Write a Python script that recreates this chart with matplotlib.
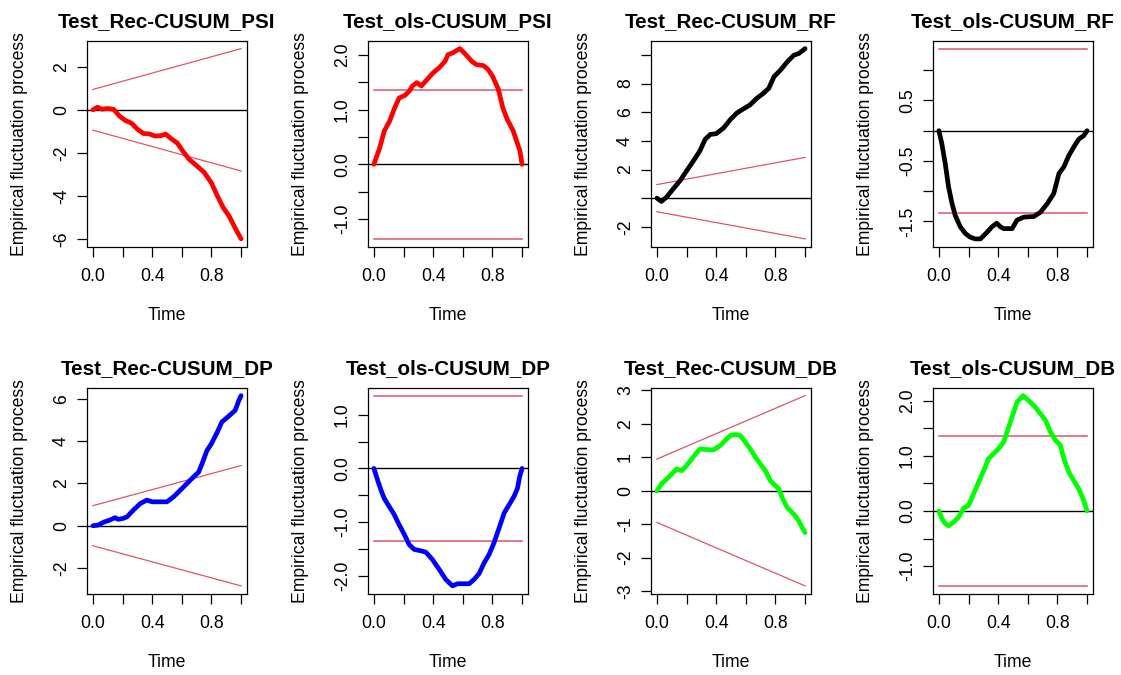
import matplotlib.pyplot as plt
import numpy as np

plt.rcParams['font.family'] = ['Liberation Sans', 'DejaVu Sans']

# fluctuation processes (time, value)
t_rec_psi = [0, 0.03, 0.06, 0.1, 0.14, 0.18, 0.22, 0.26, 0.3, 0.34, 0.38, 0.42, 0.46, 0.49,
             0.53, 0.57, 0.61, 0.65, 0.7, 0.75, 0.8, 0.84, 0.88, 0.92, 0.96, 1.0]
v_rec_psi = [0, 0.12, 0.03, 0.06, 0.02, -0.3, -0.5, -0.62, -0.9, -1.1, -1.12, -1.22, -1.2, -1.13,
             -1.35, -1.55, -1.95, -2.3, -2.6, -2.9, -3.4, -4.0, -4.55, -4.95, -5.5, -6.0]

t_ols_psi = [0, 0.04, 0.07, 0.106, 0.14, 0.17, 0.21, 0.24, 0.26, 0.29, 0.32, 0.35, 0.4, 0.44,
             0.48, 0.5, 0.53, 0.58, 0.61, 0.66, 0.69, 0.74, 0.77, 0.8, 0.84, 0.87, 0.9, 0.94,
             0.97, 0.985, 1.0]
v_ols_psi = [0, 0.31, 0.61, 0.79, 1.03, 1.21, 1.26, 1.34, 1.43, 1.49, 1.43, 1.52, 1.67, 1.76,
             1.88, 2.0, 2.03, 2.11, 2.03, 1.88, 1.82, 1.8, 1.73, 1.61, 1.37, 1.03, 0.82, 0.61,
             0.37, 0.25, 0]

t_rec_rf = [0, 0.03, 0.065, 0.11, 0.156, 0.2, 0.246, 0.29, 0.325, 0.36, 0.4, 0.45, 0.495, 0.54,
            0.585, 0.63, 0.675, 0.72, 0.755, 0.79, 0.834, 0.88, 0.924, 0.958, 1.0]
v_rec_rf = [0, -0.23, 0.07, 0.65, 1.22, 1.9, 2.6, 3.3, 4.1, 4.45, 4.5, 4.9, 5.48, 5.95,
            6.24, 6.52, 6.98, 7.33, 7.67, 8.48, 8.94, 9.52, 9.98, 10.1, 10.44]

t_ols_rf = [0, 0.02, 0.043, 0.065, 0.088, 0.11, 0.144, 0.178, 0.21, 0.245, 0.28, 0.325, 0.358,
            0.39, 0.415, 0.437, 0.494, 0.527, 0.572, 0.64, 0.685, 0.73, 0.775, 0.81, 0.843,
            0.877, 0.91, 0.944, 0.978, 1.0]
v_ols_rf = [0, -0.22, -0.55, -0.93, -1.2, -1.4, -1.59, -1.7, -1.76, -1.79, -1.79, -1.68, -1.59,
            -1.53, -1.59, -1.62, -1.62, -1.48, -1.43, -1.42, -1.35, -1.21, -1.04, -0.71, -0.6,
            -0.41, -0.27, -0.14, -0.08, 0]

t_rec_dp = [0, 0.036, 0.07, 0.115, 0.15, 0.17, 0.206, 0.23, 0.273, 0.32, 0.364, 0.4, 0.43, 0.5,
            0.545, 0.59, 0.635, 0.68, 0.714, 0.737, 0.77, 0.8, 0.84, 0.87, 0.92, 0.96, 0.985, 1.0]
v_rec_dp = [0, 0.03, 0.16, 0.27, 0.38, 0.3, 0.35, 0.42, 0.74, 1.05, 1.21, 1.13, 1.13, 1.13,
            1.37, 1.68, 2.0, 2.31, 2.54, 2.94, 3.56, 3.88, 4.43, 4.9, 5.2, 5.45, 5.92, 6.15]

t_ols_dp = [0, 0.025, 0.047, 0.07, 0.103, 0.137, 0.17, 0.205, 0.238, 0.272, 0.306, 0.35, 0.395,
            0.44, 0.485, 0.53, 0.564, 0.609, 0.643, 0.676, 0.71, 0.744, 0.778, 0.81, 0.845,
            0.879, 0.912, 0.946, 0.969, 0.984, 1.0]
v_ols_dp = [0, -0.22, -0.4, -0.56, -0.71, -0.86, -1.05, -1.23, -1.42, -1.51, -1.53, -1.56, -1.7,
            -1.88, -2.07, -2.19, -2.15, -2.15, -2.15, -2.07, -1.96, -1.76, -1.6, -1.39, -1.11,
            -0.83, -0.68, -0.52, -0.37, -0.15, 0]

t_rec_db = [0, 0.03, 0.066, 0.1, 0.133, 0.167, 0.2, 0.235, 0.27, 0.29, 0.337, 0.38, 0.427, 0.46,
            0.495, 0.53, 0.563, 0.597, 0.63, 0.665, 0.698, 0.732, 0.766, 0.8, 0.823, 0.845,
            0.879, 0.924, 0.958, 0.98, 1.0]
v_rec_db = [0, 0.2, 0.35, 0.5, 0.65, 0.6, 0.75, 0.95, 1.15, 1.25, 1.23, 1.22, 1.35, 1.5,
            1.65, 1.68, 1.65, 1.45, 1.25, 1.0, 0.8, 0.6, 0.3, 0.15, 0.05, -0.2,
            -0.5, -0.7, -0.9, -1.1, -1.25]

t_ols_db = [0, 0.02, 0.043, 0.065, 0.1, 0.133, 0.167, 0.2, 0.234, 0.268, 0.302, 0.336, 0.37,
            0.403, 0.437, 0.46, 0.493, 0.527, 0.568, 0.606, 0.651, 0.685, 0.72, 0.753, 0.787,
            0.82, 0.843, 0.877, 0.91, 0.944, 0.973, 1.0]
v_ols_db = [0, -0.14, -0.23, -0.27, -0.2, -0.11, 0.05, 0.1, 0.31, 0.52, 0.73, 0.95, 1.04,
            1.13, 1.25, 1.43, 1.7, 1.97, 2.09, 2.0, 1.88, 1.76, 1.64, 1.43, 1.28,
            1.19, 0.95, 0.7, 0.55, 0.4, 0.22, 0]

rec_bound = (0.948, 2.844)   # Rec-CUSUM boundary at t=0 and t=1
ols_bound = 1.358            # OLS-CUSUM boundary

titles = ["Test_Rec-CUSUM_PSI", "Test_ols-CUSUM_PSI", "Test_Rec-CUSUM_RF", "Test_ols-CUSUM_RF",
          "Test_Rec-CUSUM_DP", "Test_ols-CUSUM_DP", "Test_Rec-CUSUM_DB", "Test_ols-CUSUM_DB"]

yticks = [[-6, -4, -2, 0, 2],
          [-1.0, -0.5, 0.0, 0.5, 1.0, 1.5, 2.0],
          [-2, 0, 2, 4, 6, 8, 10],
          [-1.5, -1.0, -0.5, 0.0, 0.5, 1.0],
          [-2, 0, 2, 4, 6],
          [-2.0, -1.5, -1.0, -0.5, 0.0, 0.5, 1.0],
          [-3, -2, -1, 0, 1, 2, 3],
          [-1.0, -0.5, 0.0, 0.5, 1.0, 1.5, 2.0]]
ylabels = [["-6", "-4", "-2", "0", "2"],
           ["-1.0", "", "0.0", "", "1.0", "", "2.0"],
           ["-2", "", "2", "4", "6", "8", ""],
           ["-1.5", "", "-0.5", "", "0.5", ""],
           ["-2", "0", "2", "4", "6"],
           ["-2.0", "", "-1.0", "", "0.0", "", "1.0"],
           ["-3", "-2", "-1", "0", "1", "2", "3"],
           ["-1.0", "", "0.0", "", "1.0", "", "2.0"]]
xticks = [0, 0.2, 0.4, 0.6, 0.8, 1.0]
xlabels = ["0.0", "", "0.4", "", "0.8", ""]


def CusumPanel(ax, t, v, color, kind, yt, yl, title):
    bcol = '#DF536B'
    if kind == 'rec':
        ax.plot([0, 1], [rec_bound[0], rec_bound[1]], color=bcol, lw=0.9)
        ax.plot([0, 1], [-rec_bound[0], -rec_bound[1]], color=bcol, lw=0.9)
        lo = min(min(v), -rec_bound[1])
        hi = max(max(v), rec_bound[1])
    else:
        ax.plot([0, 1], [ols_bound, ols_bound], color=bcol, lw=1.1)
        ax.plot([0, 1], [-ols_bound, -ols_bound], color=bcol, lw=1.1)
        lo = min(min(v), -ols_bound)
        hi = max(max(v), ols_bound)
    ax.axhline(0, color='black', lw=1.0)
    ax.plot(t, v, color=color, lw=3.4, solid_joinstyle='round', solid_capstyle='round')
    pad = 0.04 * (hi - lo)
    ax.set_ylim(lo - pad, hi + pad)
    ax.set_xlim(-0.04, 1.04)
    ax.set_xticks(xticks)
    ax.set_xticklabels(xlabels)
    ax.set_yticks(yt)
    ax.set_yticklabels(yl, rotation=90, va='center')
    ax.tick_params(axis='both', length=7.2, width=0.9, labelsize=12.7)
    ax.tick_params(axis='x', pad=8.5)
    ax.tick_params(axis='y', pad=5)
    for s in ax.spines.values():
        s.set_linewidth(0.9)
    ax.set_xlabel("Time", fontsize=12.7, va='center')
    ax.xaxis.set_label_coords(0.5, -0.337)
    ax.set_ylabel("Empirical fluctuation process", fontsize=12.7, va='center')
    ax.yaxis.set_label_coords(-0.42, 0.5)
    ax.text(0.5, 1.093, title, transform=ax.transAxes, ha='center', va='center',
            fontsize=14.9, fontweight='bold')


if __name__ == "__main__":
    fig = plt.figure(figsize=(11.21, 6.75), dpi=100)
    W, H = 1121, 675
    lefts = [87, 368, 651, 933]
    tops = [41, 388]
    series = [(t_rec_psi, v_rec_psi, 'red', 'rec'), (t_ols_psi, v_ols_psi, 'red', 'ols'),
              (t_rec_rf, v_rec_rf, 'black', 'rec'), (t_ols_rf, v_ols_rf, 'black', 'ols'),
              (t_rec_dp, v_rec_dp, 'blue', 'rec'), (t_ols_dp, v_ols_dp, 'blue', 'ols'),
              (t_rec_db, v_rec_db, '#00FF00', 'rec'), (t_ols_db, v_ols_db, '#00FF00', 'ols')]
    for i in range(8):
        r, c = divmod(i, 4)
        ax = fig.add_axes([lefts[c] / W, 1 - (tops[r] + 205.5) / H, 160 / W, 205.5 / H])
        t, v, color, kind = series[i]
        CusumPanel(ax, t, v, color, kind, yticks[i], ylabels[i], titles[i])
    plt.savefig("out.png", dpi=100)
